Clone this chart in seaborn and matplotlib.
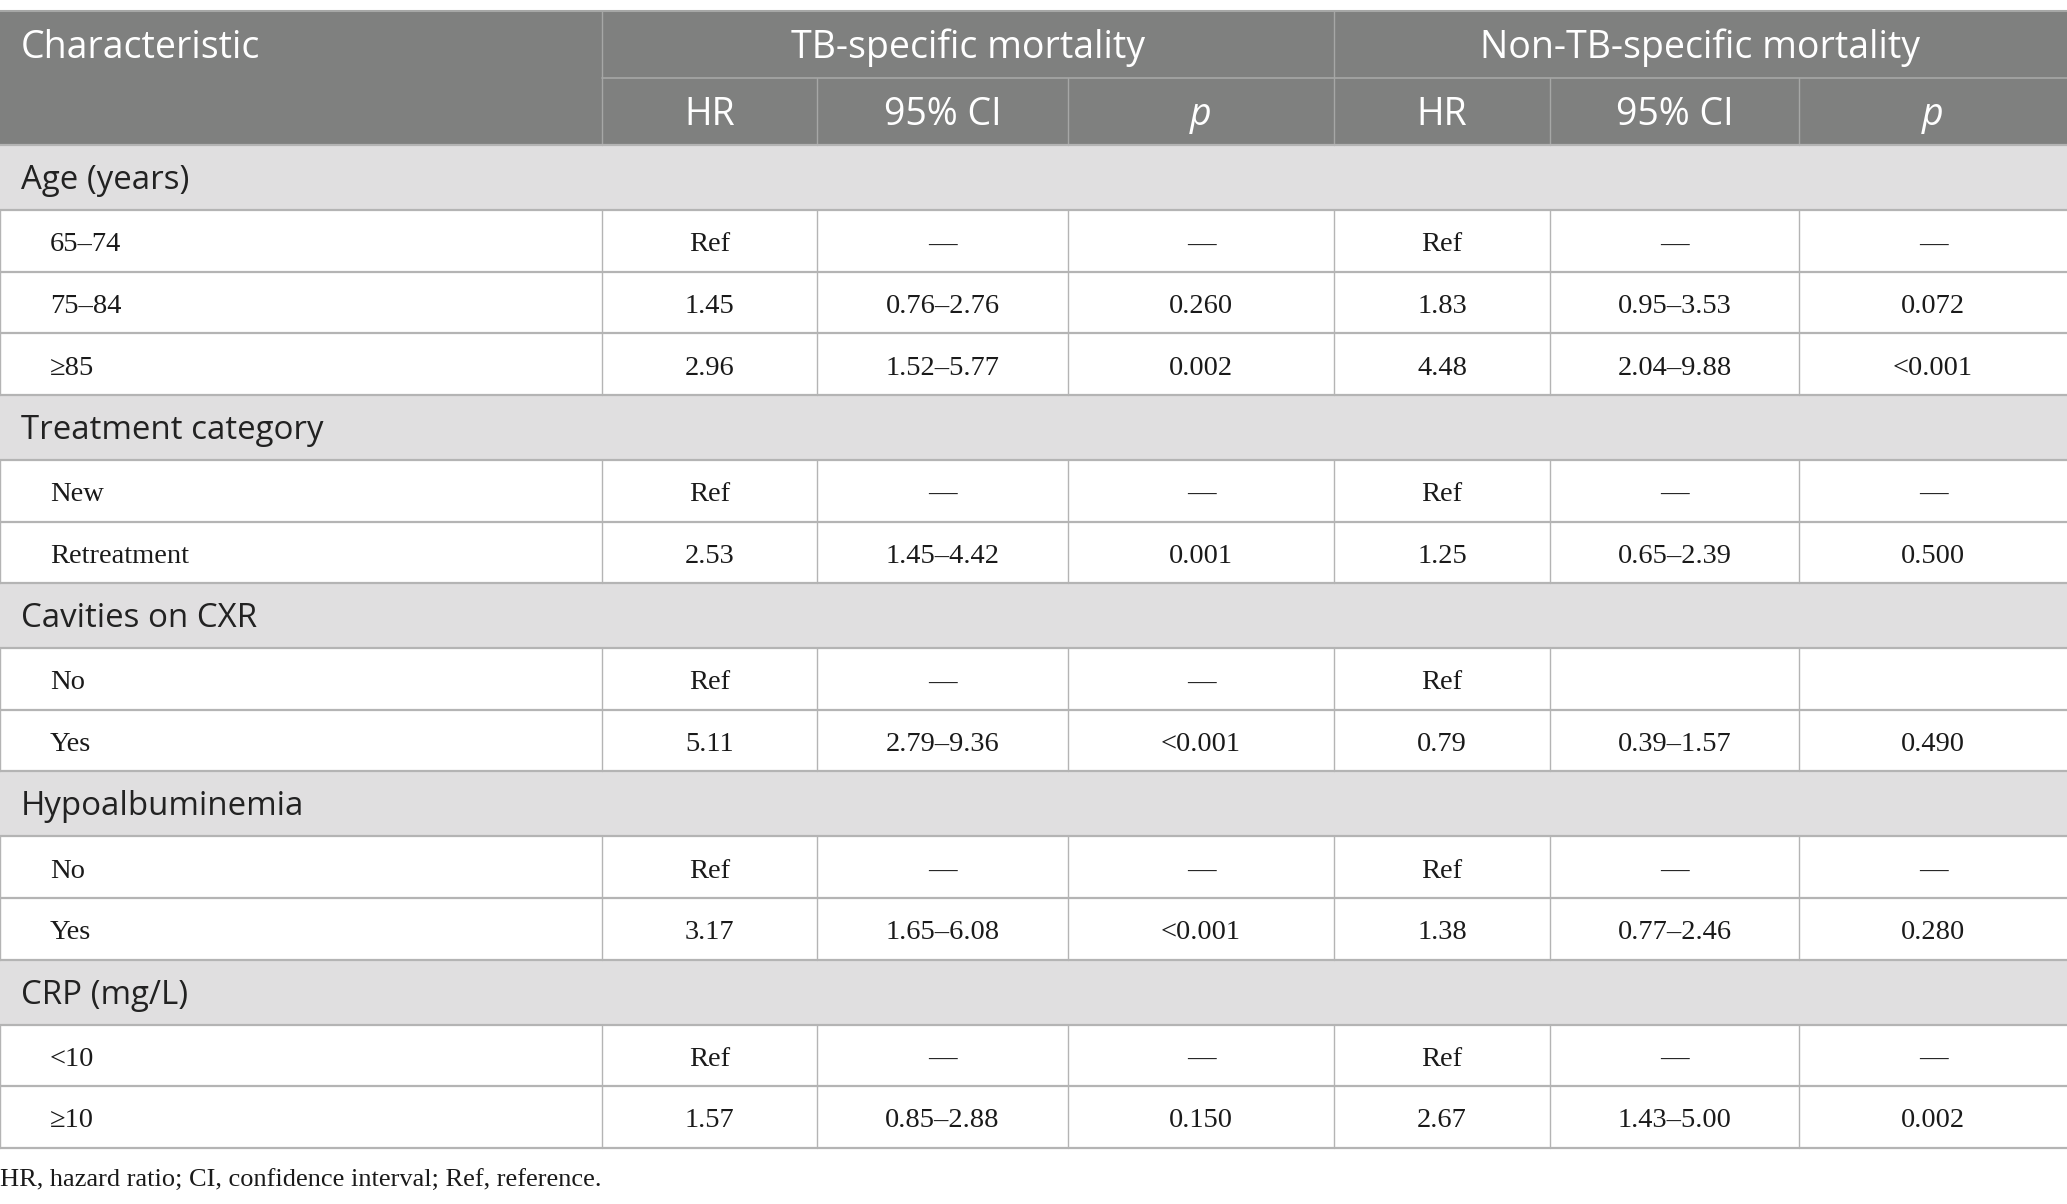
import matplotlib
matplotlib.use("Agg")
import matplotlib.pyplot as plt
import seaborn as sns

sns.set_theme(style="white")
plt.rcParams['font.family'] = ['DejaVu Sans']

# table content
col_groups = ["TB-specific mortality", "Non-TB-specific mortality"]
sub_cols = ["HR", "95% CI", "p"]
sections = ["Age (years)", "Treatment category", "Cavities on CXR", "Hypoalbuminemia", "CRP (mg/L)"]
levels = [["65–74", "75–84", "≥85"], ["New", "Retreatment"], ["No", "Yes"], ["No", "Yes"], ["<10", "≥10"]]

tb_hr = ["Ref", "1.45", "2.96", "Ref", "2.53", "Ref", "5.11", "Ref", "3.17", "Ref", "1.57"]
tb_ci = ["—", "0.76–2.76", "1.52–5.77", "—", "1.45–4.42", "—", "2.79–9.36", "—", "1.65–6.08", "—", "0.85–2.88"]
tb_p = ["—", "0.260", "0.002", "—", "0.001", "—", "<0.001", "—", "<0.001", "—", "0.150"]
ntb_hr = ["Ref", "1.83", "4.48", "Ref", "1.25", "Ref", "0.79", "Ref", "1.38", "Ref", "2.67"]
ntb_ci = ["—", "0.95–3.53", "2.04–9.88", "—", "0.65–2.39", "", "0.39–1.57", "—", "0.77–2.46", "—", "1.43–5.00"]
ntb_p = ["—", "0.072", "<0.001", "—", "0.500", "", "0.490", "—", "0.280", "—", "0.002"]

footnote = "HR, hazard ratio; CI, confidence interval; Ref, reference."

# layout (pixel units)
W, H = 2067, 1204
col_edges = [0, 602, 817, 1068, 1334, 1550, 1799, 2067]
top = 10.5
head_h = 67.3
sec_h = 65
row_h = 61.6
dy = 4  # text sits a little low in its cell

header_bg = "#7f807f"
section_bg = "#e0dfe0"
line_col = "#b4b4b4"
head_line = "#a6a7a6"

sans = ["Open Sans", "DejaVu Sans"]
serif = ["Liberation Serif", "DejaVu Serif"]

fig = plt.figure(figsize=(W / 100, H / 100), dpi=100)
ax = fig.add_axes([0, 0, 1, 1])
ax.set_xlim(0, W)
ax.set_ylim(H, 0)
ax.axis("off")

# header
y0 = top
y1 = top + head_h
y2 = top + 2 * head_h
ax.fill_between([0, W], y0, y2, color=header_bg, lw=0)
ax.plot([0, W], [y0, y0], color=head_line, lw=1.5)
ax.plot([col_edges[1], W], [y1, y1], color=head_line, lw=1.2)
for x in [col_edges[1], col_edges[4]]:
    ax.plot([x, x], [y0, y2], color=head_line, lw=1.0)
for x in [col_edges[2], col_edges[3], col_edges[5], col_edges[6]]:
    ax.plot([x, x], [y1, y2], color=head_line, lw=1.0)

ax.text(21, (y0 + y1) / 2 + dy, "Characteristic", family=sans, fontsize=27,
        color="white", ha="left", va="center")
for g, name in enumerate(col_groups):
    xa, xb = col_edges[1 + 3 * g], col_edges[4 + 3 * g]
    ax.text((xa + xb) / 2, (y0 + y1) / 2 + dy, name, family=sans, fontsize=27,
            color="white", ha="center", va="center")
    for k, sc in enumerate(sub_cols):
        cx = (col_edges[1 + 3 * g + k] + col_edges[2 + 3 * g + k]) / 2
        ax.text(cx, (y1 + y2) / 2 + dy, sc, family=sans, fontsize=27, color="white",
                ha="center", va="center", style="italic" if sc == "p" else "normal")

# body
columns = [tb_hr, tb_ci, tb_p, ntb_hr, ntb_ci, ntb_p]
y = y2
i = 0
for sec, lv in zip(sections, levels):
    ax.fill_between([0, W], y, y + sec_h, color=section_bg, lw=0)
    ax.text(21, y + sec_h / 2 + 3, sec, family=sans, fontsize=23.8, color="#222222",
            ha="left", va="center")
    ax.plot([0, W], [y, y], color=line_col, lw=1.6)
    y += sec_h
    for name in lv:
        ax.plot([0, W], [y, y], color=line_col, lw=1.6)
        for x in col_edges[:-1]:
            ax.plot([x, x], [y, y + row_h], color=line_col, lw=1.0)
        ax.text(50, y + row_h / 2 + dy, name, family=serif, fontsize=20.5,
                color="#1a1a1a", ha="left", va="center")
        for c, vals in enumerate(columns):
            cx = (col_edges[c + 1] + col_edges[c + 2]) / 2
            ax.text(cx, y + row_h / 2 + dy, vals[i], family=serif, fontsize=20.5,
                    color="#1a1a1a", ha="center", va="center")
        y += row_h
        i += 1
ax.plot([0, W], [y, y], color=line_col, lw=1.6)

ax.text(0, y + 33, footnote, family=serif, fontsize=19, color="#1a1a1a",
        ha="left", va="center")

fig.savefig("out.png", dpi=100)
